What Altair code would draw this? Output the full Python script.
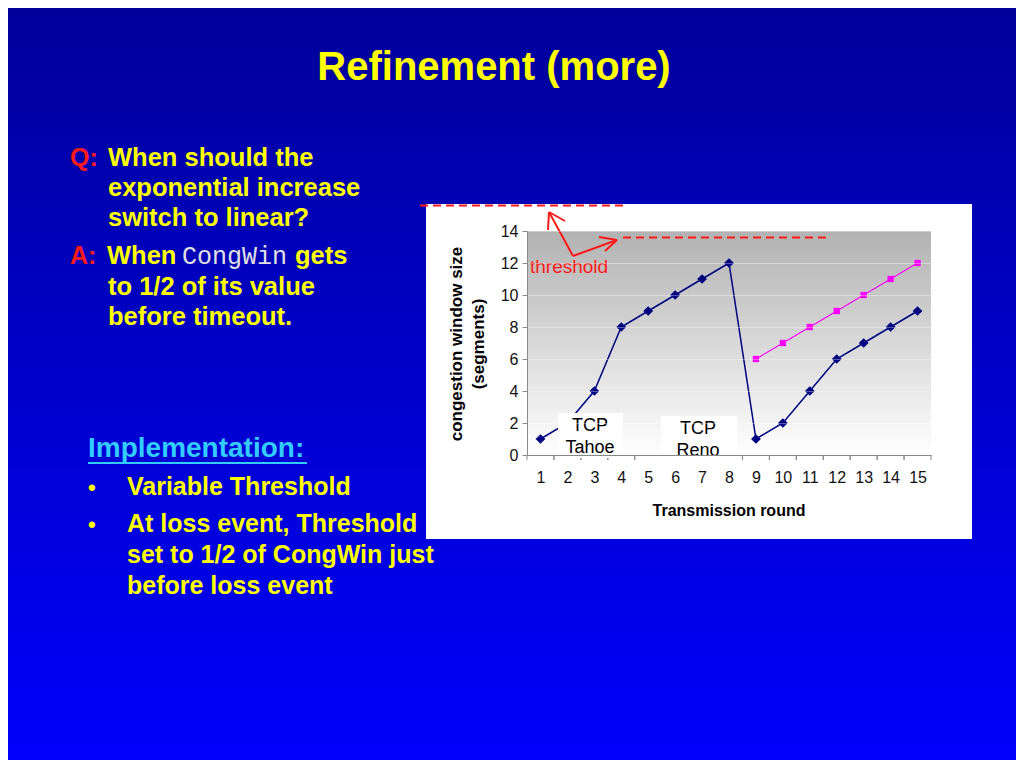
import altair as alt
import pandas as pd

# ---------------- data ----------------
rounds = list(range(1, 16))
tahoe_cwnd = [1, 2, 4, 8, 9, 10, 11, 12, 1, 2, 4, 6, 7, 8, 9]
reno_rounds = [9, 10, 11, 12, 13, 14, 15]
reno_cwnd = [6, 7, 8, 9, 10, 11, 12]
y_ticks = [0, 2, 4, 6, 8, 10, 12, 14]

title_text = "Refinement (more)"
q_lines = ["When should the", "exponential increase", "switch to linear?"]
a_first = ["When ", "CongWin", "gets"]
a_lines = ["to 1/2 of its value", "before timeout."]
impl_title = "Implementation:"
bullet1 = ["Variable Threshold"]
bullet2 = ["At loss event, Threshold", "set to 1/2 of CongWin just", "before loss event"]
y_title_lines = ["congestion window size", "(segments)"]
x_title = "Transmission round"
box1_lines = ["TCP", "Tahoe"]
box2_lines = ["TCP", "Reno"]
thr_label = "threshold"

# ---------------- geometry (page pixels) ----------------
PX0, PY0 = 527, 231          # plot area top-left on page
W, H = 404, 224              # plot area size
TOTAL_W, TOTAL_H = 1008, 752
PAD = {"left": PX0 - 8, "top": PY0 - 8,
       "right": TOTAL_W - (PX0 - 8) - W, "bottom": TOTAL_H - (PY0 - 8) - H}


def X(v):
    return v - PX0


def Y(v):
    return v - PY0


one = pd.DataFrame({"k": [0]})
FONT = "Liberation Sans"
YELLOW = "#ffff00"
RED = "#ff1a1a"


def text(s, x, y, size, color, weight="bold", align="left", font=FONT, angle=0, baseline="alphabetic"):
    kw = dict(fontSize=size, color=color, fontWeight=weight, align=align, font=font, baseline=baseline)
    if angle:
        kw["angle"] = angle
    return alt.Chart(one).mark_text(**kw).encode(
        x=alt.value(X(x)), y=alt.value(Y(y)), text=alt.value(s))


def rect(x1, x2, y1, y2, fill):
    return alt.Chart(one).mark_rect(fill=fill).encode(
        x=alt.value(X(x1)), x2=alt.value(X(x2)), y=alt.value(Y(y1)), y2=alt.value(Y(y2)))


def seg(x1, y1, x2, y2, color, width=2, dash=None):
    kw = dict(color=color, strokeWidth=width)
    if dash:
        kw["strokeDash"] = dash
    return alt.Chart(one).mark_rule(**kw).encode(
        x=alt.value(X(x1)), x2=alt.value(X(x2)), y=alt.value(Y(y1)), y2=alt.value(Y(y2)))


layers = []

# slide background
bg = alt.LinearGradient(gradient="linear", x1=0, x2=0, y1=0, y2=1,
                        stops=[alt.GradientStop(color="#00009a", offset=0),
                               alt.GradientStop(color="#0000fd", offset=1)])
layers.append(rect(8, 8 + TOTAL_W, 8, 8 + TOTAL_H, bg))

# white chart box
layers.append(rect(426, 972, 204, 539, "#ffffff"))

# plot area gradient
pg = alt.LinearGradient(gradient="linear", x1=0, x2=0, y1=0, y2=1,
                        stops=[alt.GradientStop(color="#b2b2b2", offset=0),
                               alt.GradientStop(color="#ffffff", offset=1)])
layers.append(rect(PX0, PX0 + W, PY0, PY0 + H, pg))

# ---------------- data layers ----------------
xscale = alt.Scale(domain=[0.5, 15.5], nice=False, zero=False)
yscale = alt.Scale(domain=[0, 14], nice=False, zero=False)
xaxis = alt.Axis(values=rounds, ticks=False, grid=False, title=None, labelFontSize=16,
                 labelPadding=14, labelFont=FONT, labelColor="#111111", domainColor="#888888",
                 zindex=1, labelFlush=False, labelOverlap=False)
yaxis = alt.Axis(values=y_ticks, tickSize=5, tickColor="#888888", grid=True, gridColor="#ffffff",
                 gridOpacity=0.35, title=None, labelFontSize=16, labelPadding=4, labelFont=FONT,
                 labelColor="#111111", domainColor="#888888", zindex=1)

df_tahoe = pd.DataFrame({"round": rounds, "cwnd": tahoe_cwnd})
df_reno = pd.DataFrame({"round": reno_rounds, "cwnd": reno_cwnd})
df_edges = pd.DataFrame({"round": rounds})

xe = alt.X("round:Q", scale=xscale, axis=xaxis)
ye = alt.Y("cwnd:Q", scale=yscale, axis=yaxis)

tahoe_line = alt.Chart(df_tahoe).mark_line(color="#000080", strokeWidth=1.5).encode(x=xe, y=ye)
tahoe_pts = alt.Chart(df_tahoe).mark_point(shape="diamond", filled=True, size=95,
                                           color="#000080", opacity=1).encode(x=xe, y=ye)
reno_line = alt.Chart(df_reno).mark_line(color="#ff00ff", strokeWidth=1.2).encode(x=xe, y=ye)
reno_pts = alt.Chart(df_reno).mark_point(shape="square", filled=True, size=40,
                                         color="#ff00ff", opacity=1).encode(x=xe, y=ye)
ticks = alt.Chart(df_edges).transform_calculate(edge="datum.round + 0.5").mark_rule(
    color="#888888", strokeWidth=1).encode(
    x=alt.X("edge:Q", scale=xscale, axis=xaxis), y=alt.value(H), y2=alt.value(H + 5))
ticks0 = alt.Chart(df_edges).transform_calculate(edge="datum.round - 0.5").mark_rule(
    color="#888888", strokeWidth=1).encode(
    x=alt.X("edge:Q", scale=xscale, axis=xaxis), y=alt.value(H), y2=alt.value(H + 5))

layers += [ticks0, ticks, tahoe_line, reno_line, tahoe_pts, reno_pts]

# TCP boxes
layers.append(rect(558, 623, 413, 458, "#ffffff"))
layers.append(text(box1_lines[0], 590, 431, 18, "#000000", weight="normal", align="center"))
layers.append(text(box1_lines[1], 590, 453, 18, "#000000", weight="normal", align="center"))
layers.append(rect(661, 737, 416, 461, "#ffffff"))
layers.append(text(box2_lines[0], 698, 434, 18, "#000000", weight="normal", align="center"))
layers.append(text(box2_lines[1], 698, 456, 18, "#000000", weight="normal", align="center"))

# axis titles
layers.append(text(y_title_lines[0], 457, 344, 17, "#000000", align="center", angle=270, baseline="middle"))
layers.append(text(y_title_lines[1], 479, 344, 17, "#000000", align="center", angle=270, baseline="middle"))
layers.append(text(x_title, 729, 516, 16, "#000000", align="center"))

# threshold annotation
layers.append(seg(420, 205.5, 627, 205.5, RED, 2, [8, 5]))
layers.append(seg(623, 237.5, 828, 237.5, RED, 2, [8, 5]))
layers.append(seg(573, 256, 549, 212, RED, 2))
layers.append(seg(549, 212, 565, 221, RED, 2))
layers.append(seg(549, 212, 548, 230, RED, 2))
layers.append(seg(573, 256, 617, 240, RED, 2))
layers.append(seg(617, 240, 599, 237, RED, 2))
layers.append(seg(617, 240, 605, 251, RED, 2))
layers.append(text(thr_label, 530, 273, 19, RED, weight="normal"))

# slide title
layers.append(text(title_text, 494, 80, 40, YELLOW, align="center"))

# Q / A text
layers.append(text("Q:", 70, 166, 25, RED))
for i, s in enumerate(q_lines):
    layers.append(text(s, 108, 166 + 30 * i, 25.5, YELLOW))
layers.append(text("A:", 70, 264, 25, RED))
layers.append(text(a_first[0], 107, 264, 25.5, YELLOW))
layers.append(text(a_first[1], 182, 264, 25, "#e0e0e0", weight="normal", font="Liberation Mono"))
layers.append(text(a_first[2], 295, 264, 25.5, YELLOW))
for i, s in enumerate(a_lines):
    layers.append(text(s, 108, 295 + 30 * i, 25.5, YELLOW))

# Implementation section
layers.append(text(impl_title, 88, 457, 28, "#33ccff"))
layers.append(seg(88, 463, 307, 463, "#33ccff", 2))
layers.append(text("•", 88, 495, 22, YELLOW))
layers.append(text(bullet1[0], 127, 495, 25, YELLOW))
layers.append(text("•", 88, 532, 22, YELLOW))
for i, s in enumerate(bullet2):
    layers.append(text(s, 127, 532 + 31 * i, 25, YELLOW))

chart = alt.layer(*layers).properties(
    width=W, height=H, padding=PAD,
    autosize=alt.AutoSizeParams(type="none"),
    background="#0000cc",
).configure_view(stroke=None)

chart.save("out.html", embed_options={"renderer": "svg", "actions": False})
